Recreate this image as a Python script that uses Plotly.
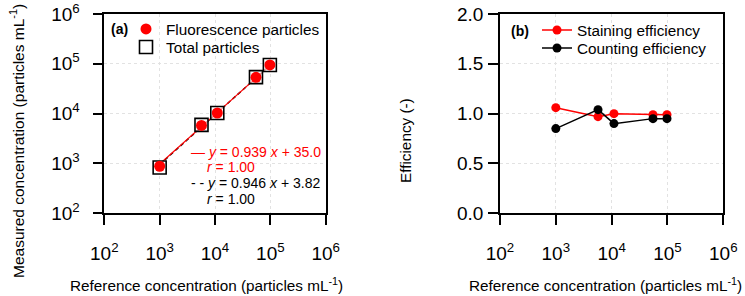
import plotly.graph_objects as go

# ---------------- data ----------------
ref_conc = [1000, 5700, 11000, 55000, 98000]
fluor_measured = [880, 5800, 10300, 53500, 95000]
total_measured = [830, 5950, 10300, 54000, 95000]
staining_eff = [1.06, 0.97, 1.00, 0.99, 0.99]
counting_eff = [0.85, 1.04, 0.90, 0.95, 0.95]
fit_fluor = (0.939, 35.0)
fit_total = (0.946, 3.82)
log_ticks = [100, 1000, 10000, 100000, 1000000]
log_ticktext = ["10<sup>2</sup>", "10<sup>3</sup>", "10<sup>4</sup>", "10<sup>5</sup>", "10<sup>6</sup>"]
eff_ticks = [0, 0.5, 1.0, 1.5, 2.0]
eff_ticktext = ["0.0", "0.5", "1.0", "1.5", "2.0"]

W, H = 745, 296
FONT = "Arial, Liberation Sans, sans-serif"
RED = "#ff0000"


def px(x):
    return x / W


def py(y):
    return 1 - y / H


fig = go.Figure()

# fit lines (a)
fit_y_total = [fit_total[0] * x + fit_total[1] for x in ref_conc]
fit_y_fluor = [fit_fluor[0] * x + fit_fluor[1] for x in ref_conc]
fig.add_trace(go.Scatter(x=ref_conc, y=fit_y_total, mode="lines",
                         line=dict(color="black", width=1.5, dash="4px,3px"),
                         showlegend=False, xaxis="x", yaxis="y"))
fig.add_trace(go.Scatter(x=ref_conc, y=fit_y_fluor, mode="lines",
                         line=dict(color=RED, width=1.2),
                         showlegend=False, xaxis="x", yaxis="y"))
# points (a)
fig.add_trace(go.Scatter(x=ref_conc, y=total_measured, mode="markers", name="Total particles",
                         marker=dict(symbol="square", size=13, color="rgba(255,255,255,0.6)",
                                     line=dict(color="black", width=1.6)),
                         legend="legend2", xaxis="x", yaxis="y"))
fig.add_trace(go.Scatter(x=ref_conc, y=fluor_measured, mode="markers", name="Fluorescence particles",
                         marker=dict(symbol="circle", size=11, color=RED),
                         legend="legend", xaxis="x", yaxis="y"))
# (b)
fig.add_trace(go.Scatter(x=ref_conc, y=staining_eff, mode="lines+markers", name="Staining efficiency",
                         line=dict(color=RED, width=1.5),
                         marker=dict(symbol="circle", size=9, color=RED),
                         legend="legend3", xaxis="x2", yaxis="y2"))
fig.add_trace(go.Scatter(x=ref_conc, y=counting_eff, mode="lines+markers", name="Counting efficiency",
                         line=dict(color="black", width=1.5),
                         marker=dict(symbol="circle", size=9, color="black"),
                         legend="legend4", xaxis="x2", yaxis="y2"))

axis_common = dict(
    showline=True, linecolor="black", linewidth=1.5, mirror=True,
    ticks="outside", ticklen=10, tickwidth=1.5, tickcolor="black",
    showgrid=True, gridcolor="#e2e2e2", griddash="dot", gridwidth=1,
    zeroline=False, automargin=False,
    tickfont=dict(family=FONT, size=19, color="black"),
)

xd1 = [px(104.3), px(325.7)]
xd2 = [px(500), px(723.3)]
yd = [py(213.3), py(14)]

fig.update_layout(
    width=W, height=H, autosize=False,
    margin=dict(l=0, r=0, t=0, b=0),
    paper_bgcolor="white", plot_bgcolor="white",
    template="none",
    font=dict(family=FONT, size=15, color="black"),
    xaxis=dict(axis_common, type="log", range=[2, 6], domain=xd1, anchor="y",
               tickvals=log_ticks, ticktext=log_ticktext, ticklabelstandoff=12),
    yaxis=dict(axis_common, type="log", range=[2, 6], domain=yd, anchor="x",
               tickvals=log_ticks, ticktext=log_ticktext, ticklabelstandoff=9),
    xaxis2=dict(axis_common, type="log", range=[2, 6], domain=xd2, anchor="y2",
                tickvals=log_ticks, ticktext=log_ticktext, ticklabelstandoff=12),
    yaxis2=dict(axis_common, range=[0, 2], domain=yd, anchor="x2",
                tickvals=eff_ticks, ticktext=eff_ticktext, ticklabelstandoff=1),
)

leg_common = dict(bgcolor="rgba(0,0,0,0)", borderwidth=0, xanchor="left", yanchor="middle",
                  font=dict(family=FONT, size=15.3, color="black"))
fig.update_layout(
    legend=dict(leg_common, x=px(126), y=py(29)),
    legend2=dict(leg_common, x=px(126), y=py(47)),
    legend3=dict(leg_common, x=px(537), y=py(30)),
    legend4=dict(leg_common, x=px(537), y=py(48)),
)

ann = []
# panel labels
ann.append(dict(text="<b>(a)</b>", x=px(120), y=py(29), showarrow=False,
                font=dict(family=FONT, size=14, color="black"), xanchor="center", yanchor="middle"))
ann.append(dict(text="<b>(b)</b>", x=px(520), y=py(31), showarrow=False,
                font=dict(family=FONT, size=14, color="black"), xanchor="center", yanchor="middle"))
# equations
eqs = [
    ("— <i>y</i> = 0.939 <i>x</i> + 35.0", 189, 152, RED),
    ("<i>r</i> = 1.00", 205, 167, RED),
    ("- - <i>y</i> = 0.946 <i>x</i> + 3.82", 189, 183, "black"),
    ("<i>r</i> = 1.00", 205, 199, "black"),
]
for t, x, y, c in eqs:
    ann.append(dict(text=t, x=px(x), y=py(y), showarrow=False, xanchor="left", yanchor="middle",
                    font=dict(family=FONT, size=14, color=c)))
# axis titles
xt = "Reference concentration (particles mL<sup>-1</sup>)"
ann.append(dict(text=xt, x=px(206), y=py(284), showarrow=False, xanchor="center", yanchor="middle",
                font=dict(family=FONT, size=15.3, color="black")))
ann.append(dict(text=xt, x=px(605), y=py(284), showarrow=False, xanchor="center", yanchor="middle",
                font=dict(family=FONT, size=15.3, color="black")))
ann.append(dict(text="Measured concentration (particles mL<sup>-1</sup>)", x=px(17), y=py(141),
                textangle=-90, showarrow=False, xanchor="center", yanchor="middle",
                font=dict(family=FONT, size=15.5, color="black")))
ann.append(dict(text="Efficiency (-)", x=px(405), y=py(141),
                textangle=-90, showarrow=False, xanchor="center", yanchor="middle",
                font=dict(family=FONT, size=15.3, color="black")))
for a in ann:
    a["xref"] = "paper"
    a["yref"] = "paper"
fig.update_layout(annotations=ann)

fig.write_html("out.html", config={"displayModeBar": False},
               post_script="document.body.style.margin='0';document.body.style.overflow='hidden';")
